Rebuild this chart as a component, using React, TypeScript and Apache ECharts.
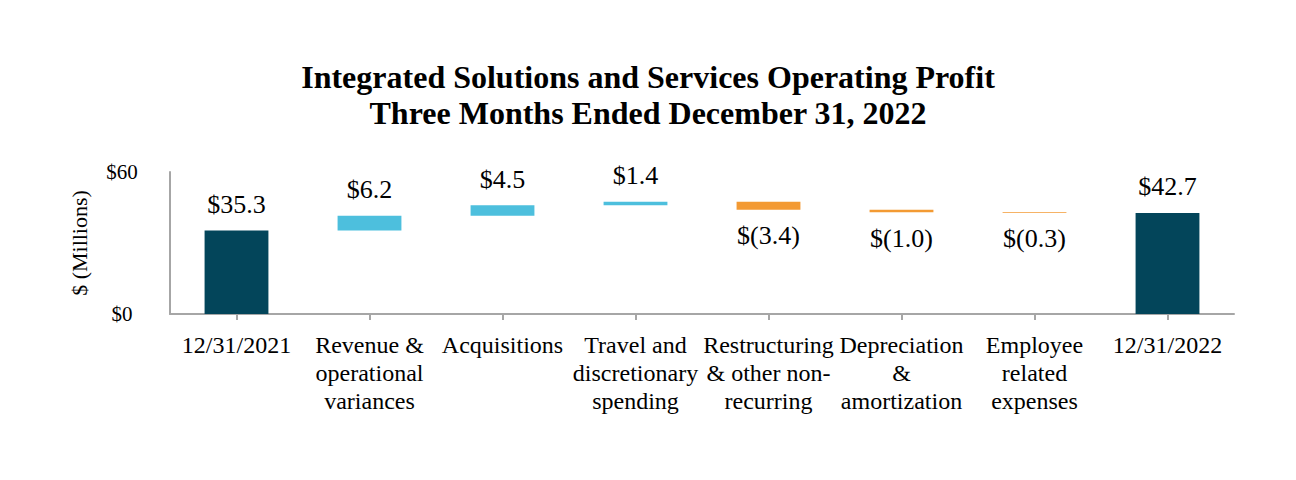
import React, { useEffect, useRef } from "react";
import * as echarts from "echarts";

const categories = [
  "12/31/2021",
  "Revenue &\noperational\nvariances",
  "Acquisitions",
  "Travel and\ndiscretionary\nspending",
  "Restructuring\n& other non-\nrecurring",
  "Depreciation\n&\namortization",
  "Employee\nrelated\nexpenses",
  "12/31/2022",
];
const startValue = 35.3;
const deltas = [6.2, 4.5, 1.4, -3.4, -1.0, -0.3];
const endValue = 42.7;
const valueLabels = ["$35.3", "$6.2", "$4.5", "$1.4", "$(3.4)", "$(1.0)", "$(0.3)", "$42.7"];
const yTickLabels = ["$0", "$60"];

const DARK = "#03455a";
const UP = "#4dbfdd";
const DOWN = "#f39a33";

export default function App() {
  const ref = useRef<HTMLDivElement>(null);
  useEffect(() => {
    if (!ref.current) return;
    const chart = echarts.init(ref.current, undefined, { renderer: "svg" });

    const base: number[] = [0];
    const vis: any[] = [];
    vis.push({ value: startValue, itemStyle: { color: DARK }, label: { position: "top" } });
    let cum = startValue;
    deltas.forEach((d) => {
      const next = cum + d;
      base.push(Math.min(cum, next));
      vis.push({
        value: Math.abs(d),
        itemStyle: { color: d >= 0 ? UP : DOWN },
        label: { position: d >= 0 ? "top" : "bottom" },
      });
      cum = next;
    });
    base.push(0);
    vis.push({ value: endValue, itemStyle: { color: DARK }, label: { position: "top" } });

    const font = "'Liberation Serif', 'Times New Roman', serif";
    chart.setOption({
      animation: false,
      title: {
        text: "Integrated Solutions and Services Operating Profit\nThree Months Ended December 31, 2022",
        left: "center",
        top: 54,
        textStyle: {
          fontFamily: font,
          fontWeight: "bold",
          fontSize: 32,
          lineHeight: 36,
          color: "#000",
        },
      },
      grid: { left: 170, right: 62, top: 172, bottom: 166 },
      xAxis: {
        type: "category",
        data: categories,
        axisLine: { show: true, lineStyle: { color: "#a6a6a6", width: 2 } },
        axisTick: { show: true, alignWithLabel: true, length: 6, lineStyle: { color: "#a6a6a6", width: 2 } },
        axisLabel: {
          interval: 0,
          margin: 17,
          fontFamily: font,
          fontSize: 24,
          lineHeight: 28,
          color: "#000",
        },
      },
      yAxis: {
        type: "value",
        min: 0,
        max: 60,
        interval: 60,
        name: "$ (Millions)",
        nameLocation: "middle",
        nameRotate: 90,
        nameGap: 80,
        nameTextStyle: { fontFamily: font, fontSize: 22, color: "#000" },
        splitLine: { show: false },
        axisLine: { show: true, lineStyle: { color: "#a6a6a6", width: 2 } },
        axisTick: { show: false },
        axisLabel: {
          margin: 48,
          align: "center",
          fontFamily: font,
          fontSize: 21,
          color: "#000",
          formatter: (v: number) => (v === 0 ? yTickLabels[0] : yTickLabels[1]),
        },
      },
      series: [
        {
          type: "bar",
          stack: "w",
          data: base,
          itemStyle: { color: "transparent" },
          emphasis: { disabled: true },
          silent: true,
          barWidth: "48%",
        },
        {
          type: "bar",
          stack: "w",
          data: vis,
          barWidth: "48%",
          label: {
            show: true,
            distance: 13,
            fontFamily: font,
            fontSize: 26,
            color: "#000",
            formatter: (p: any) => valueLabels[p.dataIndex],
          },
        },
      ],
    });
    return () => chart.dispose();
  }, []);
  return (
    <div
      ref={ref}
      style={{ position: "absolute", left: 0, top: 0, width: 1296, height: 480, background: "#fff" }}
    />
  );
}
